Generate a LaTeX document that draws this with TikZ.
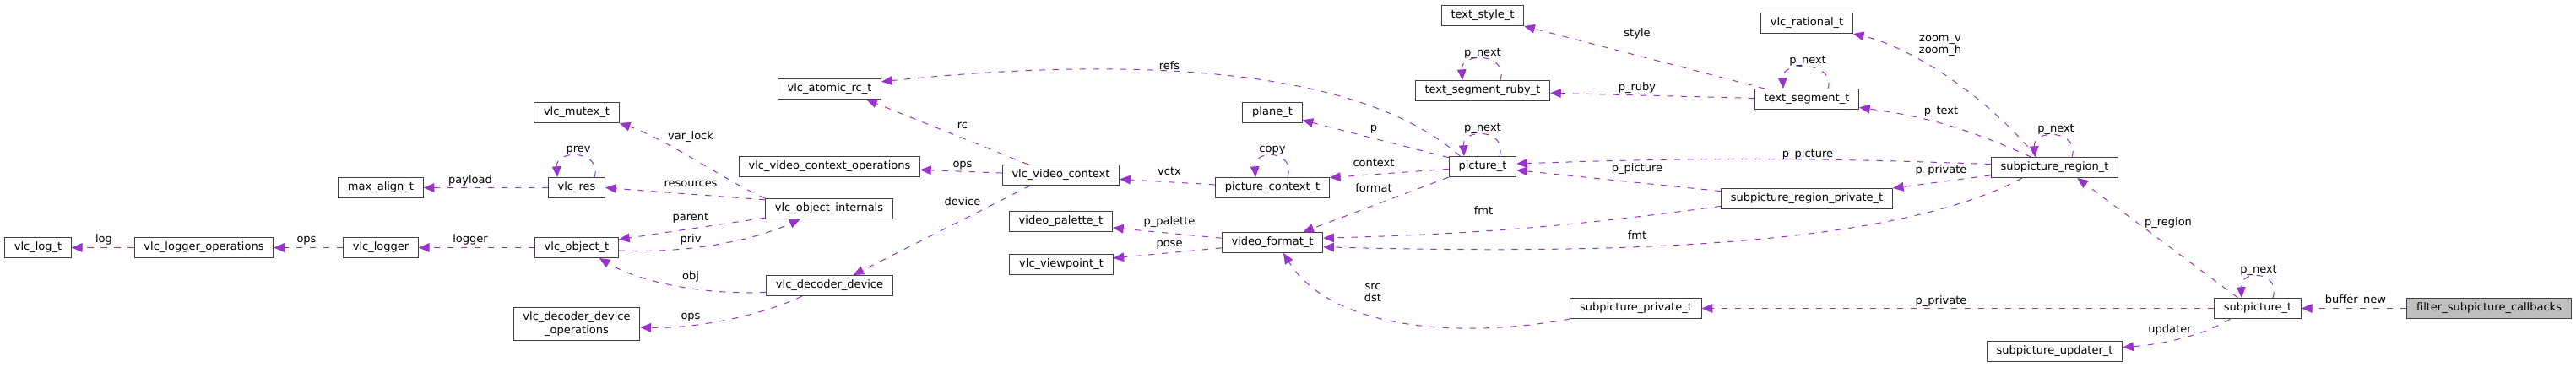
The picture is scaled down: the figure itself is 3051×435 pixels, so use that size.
\documentclass[tikz,border=0pt]{standalone}
\usepackage{fontspec}
\setmainfont{DejaVu Sans}
\usetikzlibrary{arrows.meta}
\definecolor{edgecol}{HTML}{9A32CD}
\definecolor{boxline}{HTML}{404040}
\definecolor{boxgrey}{HTML}{BFBFBF}

\begin{document}
\begin{tikzpicture}[x=0.75pt,y=-0.75pt,
  box/.style={rectangle,draw=boxline,fill=white,line width=0.75pt,inner xsep=8.4pt,inner ysep=2pt,font=\fontsize{9.75}{11.5}\selectfont},
  cls/.style={box,text height=7.2pt,text depth=2.2pt,minimum height=18pt},
  usage/.style={draw=edgecol,line width=0.75pt,dash pattern=on 5.5pt off 6.5pt,-{Triangle[length=9.5pt,width=8pt]}},
  lbl/.style={inner sep=0pt,font=\fontsize{9.75}{11.5}\selectfont,text height=7.2pt,text depth=2.2pt},
  lbltwo/.style={inner sep=0pt,font=\fontsize{9.75}{10.5}\selectfont,align=center}]
\useasboundingbox (0,0) rectangle (3051,435);

\path (45,293.5) node[cls](vlc_log_t) {vlc\_log\_t}
(241.5,293.5) node[cls](vlc_logger_operations) {vlc\_logger\_operations}
(451,293.5) node[cls](vlc_logger) {vlc\_logger}
(451,222.5) node[cls](max_align_t) {max\_align\_t}
(683,133.5) node[cls](vlc_mutex_t) {vlc\_mutex\_t}
(683,222.5) node[cls](vlc_res) {vlc\_res}
(683,293.5) node[cls](vlc_object_t) {vlc\_object\_t}
(683,384) node[box,align=center,minimum height=29.25pt](vlc_decoder_device_operations) {vlc\_decoder\_device\\\_operations}
(982.5,105.5) node[cls](vlc_atomic_rc_t) {vlc\_atomic\_rc\_t}
(982.5,197.5) node[cls](vlc_video_context_operations) {vlc\_video\_context\_operations}
(982,247.5) node[cls](vlc_object_internals) {vlc\_object\_internals}
(982.5,338.5) node[cls](vlc_decoder_device) {vlc\_decoder\_device}
(1256.5,207.5) node[cls](vlc_video_context) {vlc\_video\_context}
(1256.5,262.5) node[cls](video_palette_t) {video\_palette\_t}
(1257,313.5) node[cls](vlc_viewpoint_t) {vlc\_viewpoint\_t}
(1507,133.5) node[cls](plane_t) {plane\_t}
(1507,222.5) node[cls](picture_context_t) {picture\_context\_t}
(1507,287.5) node[cls](video_format_t) {video\_format\_t}
(1756,18.5) node[cls](text_style_t) {text\_style\_t}
(1756,107.5) node[cls](text_segment_ruby_t) {text\_segment\_ruby\_t}
(1756,197.5) node[cls](picture_t) {picture\_t}
(1937.5,365.5) node[cls](subpicture_private_t) {subpicture\_private\_t}
(2140,27.5) node[cls](vlc_rational_t) {vlc\_rational\_t}
(2140,117.5) node[cls](text_segment_t) {text\_segment\_t}
(2140,235.5) node[cls](subpicture_region_private_t) {subpicture\_region\_private\_t}
(2433.5,198.5) node[cls](subpicture_region_t) {subpicture\_region\_t}
(2433.5,416) node[cls](subpicture_updater_t) {subpicture\_updater\_t}
(2674,365.5) node[cls](subpicture_t) {subpicture\_t}
(2948,365.5) node[cls,fill=boxgrey](filter_subpicture_callbacks) {filter\_subpicture\_callbacks}
;

\path (123,284) node[lbl](lbl_log) {log}
(363,284) node[lbl](lbl_ops_logger) {ops}
(557,284) node[lbl](lbl_logger) {logger}
(557,214) node[lbl](lbl_payload) {payload}
(685,177) node[lbl](lbl_prev) {prev}
(818,162) node[lbl](lbl_var_lock) {var\_lock}
(818,218) node[lbl](lbl_resources) {resources}
(818,258) node[lbl](lbl_parent) {parent}
(818,284) node[lbl](lbl_priv) {priv}
(818,328) node[lbl](lbl_obj) {obj}
(818,375) node[lbl](lbl_ops_device) {ops}
(1140,149) node[lbl](lbl_rc) {rc}
(1140,195) node[lbl](lbl_ops_vctx) {ops}
(1140,240) node[lbl](lbl_device) {device}
(1385,79) node[lbl](lbl_refs) {refs}
(1385,204) node[lbl](lbl_vctx) {vctx}
(1385,263) node[lbl](lbl_p_palette) {p\_palette}
(1385,289) node[lbl](lbl_pose) {pose}
(1507,177) node[lbl](lbl_copy) {copy}
(1627,152) node[lbl](lbl_p) {p}
(1627,194) node[lbl](lbl_context) {context}
(1627,224) node[lbl](lbl_format) {format}
(1626,347) node[lbltwo](lbl_src_dst) {src\\dst}
(1756,63) node[lbl](lbl_ruby_next) {p\_next}
(1756,152) node[lbl](lbl_picture_next) {p\_next}
(1757,251) node[lbl](lbl_fmt_private) {fmt}
(1939,40) node[lbl](lbl_style) {style}
(1939,104) node[lbl](lbl_p_ruby) {p\_ruby}
(1939,200) node[lbl](lbl_p_picture_private) {p\_picture}
(1939,280) node[lbl](lbl_fmt_region) {fmt}
(2141,72) node[lbl](lbl_segment_next) {p\_next}
(2141,183) node[lbl](lbl_p_picture_region) {p\_picture}
(2298,54) node[lbltwo](lbl_zoom) {zoom\_v\\zoom\_h}
(2299,132) node[lbl](lbl_p_text) {p\_text}
(2299,202) node[lbl](lbl_p_private_region) {p\_private}
(2299,357) node[lbl](lbl_p_private_sub) {p\_private}
(2435,153) node[lbl](lbl_region_next) {p\_next}
(2568,264) node[lbl](lbl_p_region) {p\_region}
(2570,391) node[lbl](lbl_updater) {updater}
(2675,320) node[lbl](lbl_sub_next) {p\_next}
(2790,356) node[lbl](lbl_buffer_new) {buffer\_new}
;

\draw[usage] (vlc_logger_operations) -- (vlc_log_t);
\draw[usage] (vlc_logger) -- (vlc_logger_operations);
\draw[usage] (vlc_object_t) -- (vlc_logger);
\draw[usage] (vlc_res) -- (max_align_t);
\draw[usage] (vlc_res.north) ++(21,0) .. controls +(10,-32) and +(-2,-34) .. ++(-44,0);
\draw[usage] (vlc_object_internals.north west) .. controls (860,215) and (790,165) .. (vlc_mutex_t.south east);
\draw[usage] (vlc_object_internals.172) -- (vlc_res.east);
\draw[usage] (vlc_object_internals.188) -- (vlc_object_t.11);
\draw[usage] (vlc_object_t.356) .. controls (800,300) and (880,290) .. (vlc_object_internals.200);
\draw[usage] (vlc_decoder_device.186) .. controls (820,350) and (750,330) .. (vlc_object_t.335);
\draw[usage] (vlc_decoder_device.201) .. controls (900,375) and (820,390) .. (vlc_decoder_device_operations.357);
\draw[usage] (vlc_video_context.162) -- (vlc_atomic_rc_t.344);
\draw[usage] (vlc_video_context.178) -- (vlc_video_context_operations.358);
\draw[usage] (vlc_video_context.199) -- (vlc_decoder_device.24);
\draw[usage] (picture_context_t.177) -- (vlc_video_context.356);
\draw[usage] (picture_context_t.north) ++(18,0) .. controls +(10,-32) and +(-2,-34) .. ++(-38,0);
\draw[usage] (picture_t.155) .. controls (1600,70) and (1300,70) .. (vlc_atomic_rc_t.8);
\draw[usage] (picture_t.165) -- (plane_t.346);
\draw[usage] (picture_t.184) -- (picture_context_t.10);
\draw[usage] (picture_t.south west) -- (video_format_t.19);
\draw[usage] (picture_t.north) ++(20,0) .. controls +(10,-32) and +(-2,-34) .. ++(-42,0);
\draw[usage] (video_format_t.175) -- (video_palette_t.353);
\draw[usage] (video_format_t.186) -- (vlc_viewpoint_t.7);
\draw[usage] (text_segment_ruby_t.north) ++(21,0) .. controls +(10,-32) and +(-2,-34) .. ++(-45,0);
\draw[usage] (text_segment_t.166) -- (text_style_t.south east);
\draw[usage] (text_segment_t.179) -- (text_segment_ruby_t.358);
\draw[usage] (text_segment_t.north) ++(25,0) .. controls +(10,-32) and +(-2,-34) .. ++(-53,0);
\draw[usage] (subpicture_region_t.150) .. controls (2350,110) and (2260,55) .. (vlc_rational_t.south east);
\draw[usage] (subpicture_region_t.156) to[bend right=8] (text_segment_t.351);
\draw[usage] (subpicture_region_t.north) ++(20.5,0) .. controls +(10,-32) and +(-2,-34) .. ++(-44,0);
\draw[usage] (subpicture_region_t.177) to[bend right=2] (picture_t.5);
\draw[usage] (subpicture_region_t.187) -- (subpicture_region_private_t.north east);
\draw[usage] (subpicture_region_t.198) .. controls (2230,300) and (1850,300) .. (video_format_t.355);
\draw[usage] (subpicture_region_private_t.175) -- (picture_t.354);
\draw[usage] (subpicture_region_private_t.185) to[bend left=3] (video_format_t.5);
\draw[usage] (subpicture_private_t.south west) .. controls (1740,400) and (1580,395) .. (video_format_t.316);
\draw[usage] (subpicture_t.152) -- (subpicture_region_t.335);
\draw[usage] (subpicture_t.north) ++(18,0) .. controls +(10,-32) and +(-2,-34) .. ++(-37,0);
\draw[usage] (subpicture_t) -- (subpicture_private_t);
\draw[usage] (subpicture_t.201) .. controls (2610,398) and (2560,408) .. (subpicture_updater_t.3);
\draw[usage] (filter_subpicture_callbacks) -- (subpicture_t);

\end{tikzpicture}
\end{document}
